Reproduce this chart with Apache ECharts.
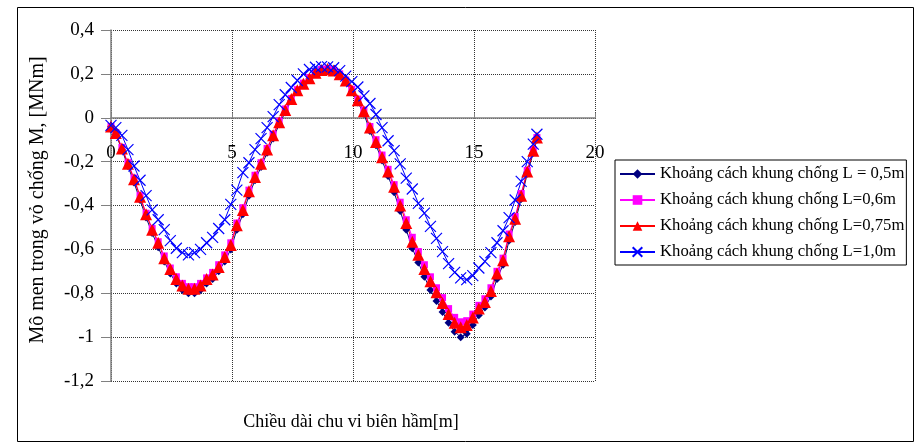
<!DOCTYPE html>
<html>
<head>
<meta charset="utf-8">
<script src="https://cdn.jsdelivr.net/npm/echarts@6/dist/echarts.min.js"></script>
<style>
  html, body { margin: 0; padding: 0; background: #fff; }
  #chart { width: 917px; height: 443px; }
</style>
</head>
<body>
<div id="chart"></div>
<script>
// Position along the lining perimeter [m]
const perimeter = [
  0, 0.2, 0.45, 0.7, 0.95, 1.2, 1.45, 1.7, 1.95, 2.2, 2.45, 2.7, 2.95, 3.2, 3.45, 3.7,
  3.95, 4.2, 4.45, 4.7, 4.95, 5.2, 5.45, 5.7, 5.95, 6.2, 6.45, 6.7, 6.95, 7.2, 7.45, 7.7,
  7.95, 8.2, 8.45, 8.7, 8.95, 9.2, 9.45, 9.7, 9.95, 10.2, 10.45, 10.7, 10.95, 11.2, 11.45,
  11.7, 11.95, 12.2, 12.45, 12.7, 12.95, 13.2, 13.45, 13.7, 13.95, 14.2, 14.45, 14.7,
  14.95, 15.2, 15.45, 15.7, 15.95, 16.2, 16.45, 16.7, 16.95, 17.2, 17.45, 17.6
];

// Bending moment in the lining [MNm] for each support spacing
const momentL050 = [
  -0.04, -0.075, -0.145, -0.22, -0.295, -0.375, -0.455, -0.525, -0.59, -0.655, -0.71, -0.755,
  -0.785, -0.80, -0.80, -0.785, -0.755, -0.735, -0.70, -0.655, -0.60, -0.51, -0.44, -0.355,
  -0.285, -0.225, -0.16, -0.095, -0.03, 0.025, 0.078, 0.12, 0.152, 0.178, 0.203, 0.217,
  0.222, 0.215, 0.196, 0.165, 0.118, 0.07, 0.018, -0.06, -0.125, -0.195, -0.265, -0.34,
  -0.425, -0.51, -0.595, -0.66, -0.725, -0.785, -0.835, -0.885, -0.935, -0.975, -1.0,
  -0.985, -0.945, -0.9, -0.865, -0.815, -0.735, -0.67, -0.56, -0.475, -0.37, -0.255, -0.16, -0.1
];
const momentL060 = [
  -0.04, -0.068, -0.135, -0.205, -0.275, -0.355, -0.435, -0.505, -0.565, -0.63, -0.685, -0.725,
  -0.755, -0.77, -0.77, -0.755, -0.73, -0.705, -0.67, -0.625, -0.57, -0.48, -0.41, -0.33,
  -0.262, -0.205, -0.14, -0.075, -0.015, 0.04, 0.088, 0.128, 0.158, 0.183, 0.207, 0.22,
  0.223, 0.217, 0.2, 0.172, 0.13, 0.085, 0.035, -0.04, -0.1, -0.17, -0.235, -0.305,
  -0.385, -0.465, -0.545, -0.61, -0.67, -0.725, -0.775, -0.82, -0.87, -0.91, -0.93,
  -0.925, -0.895, -0.855, -0.825, -0.775, -0.70, -0.64, -0.53, -0.45, -0.345, -0.24, -0.145, -0.09
];
const momentL075 = [
  -0.04, -0.07, -0.14, -0.21, -0.28, -0.36, -0.44, -0.51, -0.57, -0.64, -0.69, -0.735,
  -0.765, -0.78, -0.78, -0.765, -0.735, -0.715, -0.68, -0.635, -0.58, -0.49, -0.42, -0.335,
  -0.27, -0.21, -0.145, -0.08, -0.02, 0.035, 0.085, 0.125, 0.155, 0.18, 0.205, 0.218,
  0.222, 0.215, 0.198, 0.17, 0.125, 0.08, 0.03, -0.045, -0.11, -0.18, -0.245, -0.315,
  -0.40, -0.48, -0.565, -0.625, -0.69, -0.745, -0.795, -0.845, -0.895, -0.935, -0.955,
  -0.945, -0.91, -0.87, -0.84, -0.79, -0.71, -0.65, -0.54, -0.46, -0.355, -0.245, -0.15, -0.09
];
const momentL100 = [
  -0.035, -0.045, -0.08, -0.145, -0.22, -0.285, -0.355, -0.42, -0.465, -0.51, -0.56, -0.595,
  -0.615, -0.625, -0.615, -0.60, -0.57, -0.545, -0.505, -0.465, -0.395, -0.33, -0.25, -0.205,
  -0.145, -0.095, -0.045, 0.005, 0.06, 0.105, 0.138, 0.17, 0.2, 0.22, 0.23, 0.233,
  0.232, 0.228, 0.215, 0.19, 0.165, 0.14, 0.1, 0.065, 0.015, -0.045, -0.105, -0.15,
  -0.21, -0.275, -0.325, -0.39, -0.435, -0.495, -0.55, -0.61, -0.665, -0.705, -0.73,
  -0.738, -0.72, -0.685, -0.655, -0.615, -0.57, -0.515, -0.455, -0.375, -0.29, -0.2, -0.12, -0.075
];

const seriesNames = [
  'Khoảng cách khung chống L = 0,5m',
  'Khoảng cách khung chống L=0,6m',
  'Khoảng cách khung chống L=0,75m',
  'Khoảng cách khung chống L=1,0m'
];
const xTitle = 'Chiều dài chu vi biên hầm[m]';
const yTitle = 'Mô men trong vỏ chống M, [MNm]';

const FONT = '"Liberation Serif", "Times New Roman", serif';
const pairs = ys => perimeter.map((x, i) => [x, ys[i]]);
const crossSymbol = 'path://M0,0L10,10M10,0L0,10';

// Plot area and value range
const GRID = { left: 111, right: 322, top: 30, bottom: 62 };
const Y_MIN = -1.2, Y_MAX = 0.4;
const plotHeight = 443 - GRID.top - GRID.bottom;
// Shift the horizontal axis up so it runs along M = 0
const xAxisOffset = -plotHeight * (0 - Y_MIN) / (Y_MAX - Y_MIN);

const chart = echarts.init(document.getElementById('chart'), null, { renderer: 'canvas' });

chart.setOption({
  backgroundColor: '#ffffff',
  animation: false,
  grid: GRID,
  xAxis: {
    type: 'value',
    position: 'bottom',
    offset: xAxisOffset,
    min: 0, max: 20, interval: 5,
    axisLine: { onZero: false, lineStyle: { color: '#808080', width: 1.5 } },
    axisTick: { show: true, inside: true, length: 5, lineStyle: { color: '#808080' } },
    axisLabel: { margin: 26, color: '#000', fontFamily: FONT, fontSize: 19 },
    splitLine: { show: true, lineStyle: { color: '#333', type: [1, 1], width: 1 } }
  },
  yAxis: {
    type: 'value',
    min: Y_MIN, max: Y_MAX, interval: 0.2,
    axisLine: { show: true, onZero: false, lineStyle: { color: '#808080', width: 1.5 } },
    axisTick: { show: true, inside: false, length: 10, lineStyle: { color: '#808080' } },
    axisLabel: {
      margin: 17, color: '#000', fontFamily: FONT, fontSize: 19,
      formatter: v => String(+v.toFixed(1)).replace('.', ',')
    },
    splitLine: { show: true, lineStyle: { color: '#333', type: [1, 1], width: 1 } }
  },
  legend: {
    orient: 'vertical',
    left: 615, top: 160,
    padding: [5, 2, 4, 4],
    itemGap: 8,
    itemWidth: 35, itemHeight: 12,
    borderColor: '#000', borderWidth: 1,
    backgroundColor: '#fff',
    textStyle: { color: '#000', fontFamily: FONT, fontSize: 16.7, lineHeight: 18 },
    data: seriesNames
  },
  graphic: [
    { type: 'rect', left: 15, top: 5, shape: { width: 896, height: 434 },
      style: { fill: 'none', stroke: '#000', lineWidth: 1 }, z: -1 },
    { type: 'text', x: 351, y: 422,
      style: { text: xTitle, fill: '#000', font: '18px ' + FONT, textAlign: 'center', textVerticalAlign: 'middle' } },
    { type: 'text', x: 38, y: 200, rotation: Math.PI / 2,
      style: { text: yTitle, fill: '#000', font: '20px ' + FONT, textAlign: 'center', textVerticalAlign: 'middle',
               width: 290, overflow: 'truncate', ellipsis: '' } }
  ],
  series: [
    {
      name: seriesNames[0], type: 'line', data: pairs(momentL050),
      symbol: 'diamond', symbolSize: 8,
      itemStyle: { color: '#000080' }, lineStyle: { color: '#000080', width: 1 }
    },
    {
      name: seriesNames[1], type: 'line', data: pairs(momentL060),
      symbol: 'rect', symbolSize: 7,
      itemStyle: { color: '#ff00ff' }, lineStyle: { color: '#ff00ff', width: 1 }
    },
    {
      name: seriesNames[2], type: 'line', data: pairs(momentL075),
      symbol: 'triangle', symbolSize: 12,
      itemStyle: { color: '#ff0000' }, lineStyle: { color: '#ff0000', width: 1 }
    },
    {
      name: seriesNames[3], type: 'line', data: pairs(momentL100),
      symbol: crossSymbol, symbolSize: 11,
      itemStyle: { color: 'rgba(0,0,0,0)', borderColor: '#0000ff', borderWidth: 1.2 },
      lineStyle: { color: '#0000ff', width: 1 }
    }
  ]
});
</script>
</body>
</html>
